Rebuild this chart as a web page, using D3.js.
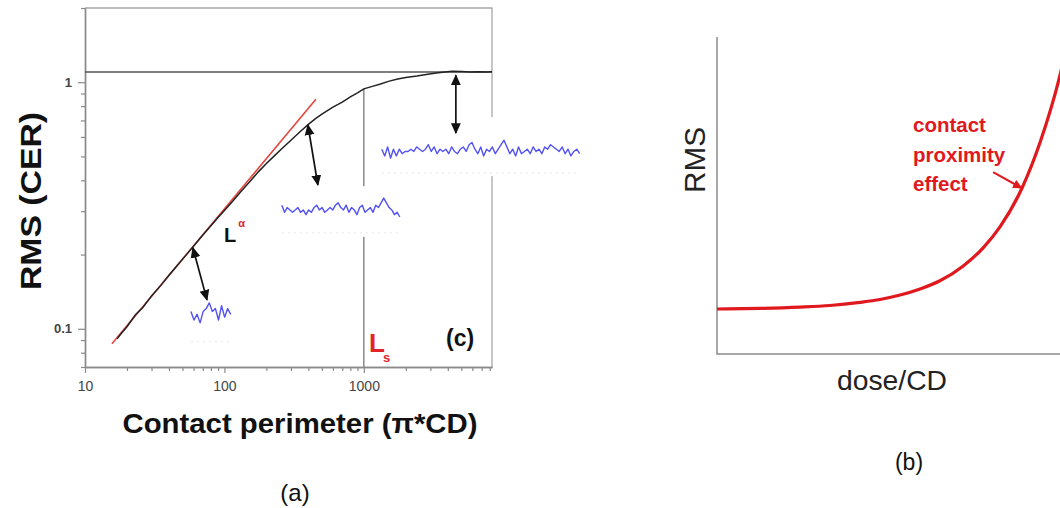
<!DOCTYPE html>
<html>
<head>
<meta charset="utf-8">
<script src="https://cdn.jsdelivr.net/npm/d3@7"></script>
<style>
  body { margin: 0; background: #fff; }
  svg { display: block; }
  text { font-family: "Liberation Sans", Arial, Helvetica, sans-serif; }
</style>
</head>
<body>
<svg id="chart" width="1060" height="508"></svg>
<script>
// ---------- Panel (a): RMS (CER) versus contact perimeter ----------
const perimeter = [17, 18, 20, 23, 26, 30, 35, 40, 46, 53, 60, 70, 80, 90, 100, 115, 130, 150, 175, 200,
  230, 260, 300, 350, 400, 450, 500, 600, 700, 800, 900, 1000, 1150, 1300, 1500, 1750, 2000, 2400,
  2800, 3300, 3800, 4300, 5000, 5800, 6700, 7600, 8300];
const rmsCER = [0.091, 0.095, 0.102, 0.114, 0.122, 0.136, 0.150, 0.165, 0.181, 0.199, 0.216, 0.240, 0.262,
  0.283, 0.302, 0.330, 0.358, 0.392, 0.433, 0.468, 0.505, 0.540, 0.582, 0.631, 0.675, 0.712, 0.742, 0.792,
  0.830, 0.872, 0.905, 0.940, 0.962, 0.982, 1.008, 1.030, 1.045, 1.060, 1.075, 1.090, 1.100, 1.108, 1.105,
  1.100, 1.104, 1.100, 1.102];

// power-law fit L^alpha (end points)
const fitPerimeter = [15.6, 453];
const fitRMS = [0.0869, 0.853];

// saturation level and correlation length L_s
const saturationRMS = 1.1;
const correlationLength = 1000;

const xMajorTicks = [10, 100, 1000];
const xTickLabels = ["10", "100", "1000"];
const yMajorTicks = [0.1, 1];
const yTickLabels = ["0.1", "1"];

// edge roughness profiles for a small, medium and large contact
const traceSmall = [6, 3, 5, 2, 6, 7, 9, 6, 7, 3, 8, 4, 7, 5];
const traceMid = [7, 4, 6, 5, 4, 5, 6, 4, 5, 3, 5, 4, 6, 7, 5, 6, 4, 5, 6, 5, 7, 8, 6, 5, 7, 4, 6, 5, 3,
  6, 7, 4, 5, 6, 4, 7, 6, 8, 10, 8, 6, 5, 3, 4, 2];
const traceLarge = [6, 3, 7, 2, 6, 3, 6, 4, 5, 5, 6, 5, 7, 6, 5, 6, 8, 5, 7, 4, 6, 5, 6, 4, 7, 5, 4, 6, 7,
  5, 8, 9, 6, 4, 7, 3, 6, 5, 7, 4, 6, 8, 10, 7, 4, 6, 3, 7, 4, 5, 6, 4, 7, 5, 6, 4, 7, 6, 8, 7, 6, 5, 7,
  4, 6, 3, 5, 6, 4];

// ---------- Panel (b): RMS versus dose/CD (arbitrary units) ----------
const doseCD = [0, 1.25, 2.42, 3.29, 4.17, 4.75, 5.34, 5.92, 6.50, 7.17, 7.76, 8.25, 8.89, 9.42, 10.0, 10.29];
const rmsB = [1.42, 1.44, 1.48, 1.53, 1.63, 1.72, 1.86, 2.05, 2.31, 2.77, 3.35, 4.01, 5.23, 6.68, 8.8, 10.2];
const proximityPoint = 12; // index of the point the label arrow touches

const svg = d3.select("#chart");

const defs = svg.append("defs");
function arrowMarker(id, color, size) {
  defs.append("marker")
    .attr("id", id)
    .attr("viewBox", "0 0 10 10")
    .attr("refX", 9).attr("refY", 5)
    .attr("markerUnits", "userSpaceOnUse")
    .attr("markerWidth", size).attr("markerHeight", size)
    .attr("orient", "auto-start-reverse")
    .append("path")
    .attr("d", "M0,0.5 L10,5 L0,9.5 Z")
    .attr("fill", color);
}
arrowMarker("headBlack", "#111", 11);
arrowMarker("headRed", "#e0191e", 10);

// ===== Panel (a) =====
const x = d3.scaleLog().domain([10, 8300]).range([85, 492]);
const y = d3.scaleLog().domain([0.07, 2]).range([367, 8]);
const gA = svg.append("g");

// top / right frame
gA.append("path")
  .attr("d", `M${x.range()[0]},${y.range()[1]}H${x.range()[1]}V${y.range()[0]}`)
  .attr("fill", "none").attr("stroke", "#a8a8a8").attr("stroke-width", 1.3);

const xMinor = [];
[10, 100, 1000].forEach(d => d3.range(2, 10).forEach(k => { if (d * k <= 8300) xMinor.push(d * k); }));
const yMinor = [0.07, 0.08, 0.09, 0.2, 0.3, 0.4, 0.5, 0.6, 0.7, 0.8, 0.9, 2];

function styleAxis(g, size) {
  g.select(".domain").attr("stroke", "#8a8a8a").attr("stroke-width", 1.4);
  g.selectAll(".tick line").attr("stroke", "#8a8a8a").attr("stroke-width", 1.2);
  g.selectAll("text").attr("font-size", size).attr("fill", "#444");
}

gA.append("g").attr("transform", `translate(0,${y.range()[0]})`)
  .call(d3.axisBottom(x).tickValues(xMinor).tickSize(4).tickSizeOuter(0).tickFormat(""))
  .call(g => styleAxis(g, 14));
gA.append("g").attr("transform", `translate(0,${y.range()[0]})`)
  .call(d3.axisBottom(x).tickValues(xMajorTicks).tickSize(6).tickSizeOuter(0).tickPadding(8)
    .tickFormat((d, i) => xTickLabels[i]))
  .call(g => styleAxis(g, 14));

gA.append("g").attr("transform", `translate(${x.range()[0]},0)`)
  .call(d3.axisLeft(y).tickValues(yMinor).tickSize(4).tickSizeOuter(0).tickFormat(""))
  .call(g => styleAxis(g, 13));
gA.append("g").attr("transform", `translate(${x.range()[0]},0)`)
  .call(d3.axisLeft(y).tickValues(yMajorTicks).tickSize(7).tickSizeOuter(0).tickPadding(6)
    .tickFormat((d, i) => yTickLabels[i]))
  .call(g => styleAxis(g, 13))
  .call(g => g.selectAll("text").attr("font-weight", "bold"));

// saturation level
gA.append("line")
  .attr("x1", x(10)).attr("x2", x(8300))
  .attr("y1", y(saturationRMS)).attr("y2", y(saturationRMS))
  .attr("stroke", "#555").attr("stroke-width", 1.3);

// L_s marker line
const lsIndex = perimeter.indexOf(correlationLength);
gA.append("line")
  .attr("x1", x(correlationLength)).attr("x2", x(correlationLength))
  .attr("y1", y(rmsCER[lsIndex])).attr("y2", y.range()[0])
  .attr("stroke", "#777").attr("stroke-width", 1.3);

// power-law fit
gA.append("line")
  .attr("x1", x(fitPerimeter[0])).attr("y1", y(fitRMS[0]))
  .attr("x2", x(fitPerimeter[1])).attr("y2", y(fitRMS[1]))
  .attr("stroke", "#e2463e").attr("stroke-width", 1.6);

// measured curve
gA.append("path")
  .datum(perimeter.map((p, i) => [p, rmsCER[i]]))
  .attr("d", d3.line().x(d => x(d[0])).y(d => y(d[1])))
  .attr("fill", "none").attr("stroke", "#222").attr("stroke-width", 1.5);

// roughness profile insets (placed in data coordinates of the main plot)
const insets = [
  { values: traceSmall, x0: 57.5, x1: 111, lo: 0.1057, hi: 0.1274, box: [54.7, 117, 0.0861, 0.144], base: 0.0886 },
  { values: traceMid, x0: 258, x1: 1812, lo: 0.284, hi: 0.339, box: [250, 1871, 0.236, 0.379], base: 0.245 },
  { values: traceLarge, x0: 1345, x1: 35300, lo: 0.492, hi: 0.582, box: [1259, 38400, 0.416, 0.722], base: 0.428 }
];
insets.forEach(s => {
  const g = gA.append("g");
  g.append("rect")
    .attr("x", x(s.box[0])).attr("y", y(s.box[3]))
    .attr("width", x(s.box[1]) - x(s.box[0])).attr("height", y(s.box[2]) - y(s.box[3]))
    .attr("fill", "#fff");
  g.append("line")
    .attr("x1", x(s.x0)).attr("x2", x(s.x1))
    .attr("y1", y(s.base)).attr("y2", y(s.base))
    .attr("stroke", "#e6e6e6").attr("stroke-width", 1).attr("stroke-dasharray", "2,4");
  const ix = d3.scaleLinear().domain([0, s.values.length - 1]).range([x(s.x0), x(s.x1)]);
  const iy = d3.scaleLinear().domain(d3.extent(s.values)).range([y(s.lo), y(s.hi)]);
  g.append("path")
    .datum(s.values)
    .attr("d", d3.line().x((d, i) => ix(i)).y(d => iy(d)))
    .attr("fill", "none").attr("stroke", "#5252f4").attr("stroke-width", 1.4)
    .attr("stroke-linejoin", "round");
});

// double-headed arrows linking curve points to their profiles
const arrows = [
  [[59.4, 0.213], [75, 0.131]],
  [[397, 0.67], [468, 0.383]],
  [[4570, 1.067], [4570, 0.622]]
];
gA.selectAll(".arrow").data(arrows).join("line")
  .attr("class", "arrow")
  .attr("x1", d => x(d[0][0])).attr("y1", d => y(d[0][1]))
  .attr("x2", d => x(d[1][0])).attr("y2", d => y(d[1][1]))
  .attr("stroke", "#111").attr("stroke-width", 1.7)
  .attr("marker-start", "url(#headBlack)").attr("marker-end", "url(#headBlack)");

// labels
gA.append("text")
  .attr("transform", "translate(41,201) rotate(-90)")
  .attr("text-anchor", "middle").attr("font-size", 30).attr("font-weight", "bold")
  .attr("textLength", 178).attr("lengthAdjust", "spacingAndGlyphs").attr("fill", "#111")
  .text("RMS (CER)");
gA.append("text")
  .attr("x", 300).attr("y", 433)
  .attr("text-anchor", "middle").attr("font-size", 28).attr("font-weight", "bold")
  .attr("textLength", 355).attr("lengthAdjust", "spacingAndGlyphs").attr("fill", "#111")
  .text("Contact perimeter (π*CD)");

const la = gA.append("text").attr("x", 224).attr("y", 242).attr("font-weight", "bold");
la.append("tspan").attr("font-size", 20).attr("fill", "#111").text("L");
la.append("tspan").attr("font-size", 11).attr("fill", "#e2232a").attr("dx", 2).attr("dy", -15).text("α");

const ls = gA.append("text").attr("x", 369).attr("y", 352).attr("font-weight", "bold").attr("fill", "#e2232a");
ls.append("tspan").attr("font-size", 26).text("L");
ls.append("tspan").attr("font-size", 13).attr("dx", -2).attr("dy", 10).text("s");

gA.append("text").attr("x", 446).attr("y", 346)
  .attr("font-size", 23).attr("font-weight", "bold").attr("fill", "#111").text("(c)");

svg.append("text").attr("x", 295).attr("y", 501).attr("text-anchor", "middle")
  .attr("font-size", 24).attr("fill", "#111").text("(a)");

// ===== Panel (b) =====
const xb = d3.scaleLinear().domain([0, 10]).range([717, 1060]);
const yb = d3.scaleLinear().domain([0, 10]).range([354, 37]);
const gB = svg.append("g");

gB.append("path")
  .attr("d", `M${xb(0)},${yb(10)}V${yb(0)}H${xb(10.2)}`)
  .attr("fill", "none").attr("stroke", "#8a8a8a").attr("stroke-width", 1.5);

gB.append("path")
  .datum(doseCD.map((d, i) => [d, rmsB[i]]))
  .attr("d", d3.line().curve(d3.curveMonotoneX).x(d => xb(d[0])).y(d => yb(d[1])))
  .attr("fill", "none").attr("stroke", "#e0191e").attr("stroke-width", 3.2);

gB.append("line")
  .attr("x1", xb(8.05)).attr("y1", yb(5.74))
  .attr("x2", xb(doseCD[proximityPoint])).attr("y2", yb(rmsB[proximityPoint]))
  .attr("stroke", "#e0191e").attr("stroke-width", 2)
  .attr("marker-end", "url(#headRed)");

gB.selectAll(".note").data(["contact", "proximity", "effect"]).join("text")
  .attr("class", "note")
  .attr("x", 913).attr("y", (d, i) => 132 + i * 29.5)
  .attr("font-size", 20.5).attr("font-weight", "bold").attr("fill", "#e0191e")
  .text(d => d);

gB.append("text")
  .attr("transform", "translate(705,160) rotate(-90)")
  .attr("text-anchor", "middle").attr("font-size", 30)
  .attr("textLength", 66).attr("lengthAdjust", "spacingAndGlyphs").attr("fill", "#222")
  .text("RMS");
gB.append("text")
  .attr("x", 892).attr("y", 390).attr("text-anchor", "middle").attr("font-size", 28)
  .attr("textLength", 110).attr("lengthAdjust", "spacingAndGlyphs").attr("fill", "#222")
  .text("dose/CD");
svg.append("text").attr("x", 909).attr("y", 470).attr("text-anchor", "middle")
  .attr("font-size", 23).attr("fill", "#111").text("(b)");
</script>
</body>
</html>
